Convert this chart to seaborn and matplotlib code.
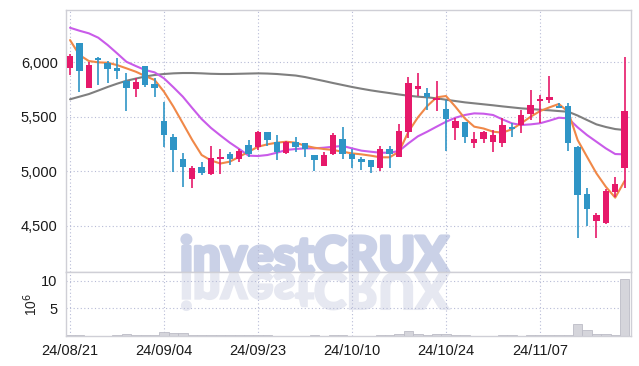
import numpy as np
import pandas as pd
import matplotlib
matplotlib.use("Agg")
import matplotlib.pyplot as plt
import seaborn as sns
from matplotlib.textpath import TextPath
from matplotlib.patches import PathPatch
from matplotlib.font_manager import FontProperties
import matplotlib.transforms as mtransforms
import matplotlib.patheffects as pe

# ---------------- data ----------------
dates = ["24/08/21", "24/08/22", "24/08/23", "24/08/26", "24/08/27", "24/08/28", "24/08/29", "24/08/30",
         "24/09/02", "24/09/03", "24/09/04", "24/09/05", "24/09/06", "24/09/09", "24/09/10", "24/09/11",
         "24/09/12", "24/09/13", "24/09/19", "24/09/20", "24/09/23", "24/09/24", "24/09/25", "24/09/26",
         "24/09/27", "24/09/30", "24/10/02", "24/10/04", "24/10/07", "24/10/08", "24/10/10", "24/10/11",
         "24/10/14", "24/10/15", "24/10/16", "24/10/17", "24/10/18", "24/10/21", "24/10/22", "24/10/23",
         "24/10/24", "24/10/25", "24/10/28", "24/10/29", "24/10/30", "24/10/31", "24/11/01", "24/11/04",
         "24/11/05", "24/11/06", "24/11/07", "24/11/08", "24/11/11", "24/11/12", "24/11/13", "24/11/14",
         "24/11/15", "24/11/18", "24/11/19", "24/11/20"]

opens = [5951, 6174, 5762, 6037, 5996, 5945, 5829, 5758, 5966, 5801,
         5462, 5318, 5110, 4927, 5043, 4973, 5116, 5156, 5113, 5242,
         5226, 5358, 5266, 5171, 5272, 5257, 5150, 5052, 5159, 5294,
         5159, 5113, 5104, 5034, 5202, 5134, 5364, 5758, 5716, 5654,
         5569, 5400, 5450, 5257, 5294, 5272, 5257, 5410, 5422, 5523,
         5645, 5654, 5602, 5599, 5226, 4792, 4548, 4529, 4813, 5028]
highs = [6080, 6180, 6005, 6046, 6012, 6037, 5899, 5853, 5970, 5860,
         5636, 5340, 5171, 5052, 5089, 5235, 5202, 5180, 5205, 5287,
         5370, 5360, 5331, 5275, 5318, 5260, 5150, 5180, 5349, 5404,
         5202, 5135, 5104, 5235, 5235, 5431, 5868, 5905, 5762, 5831,
         5654, 5486, 5455, 5364, 5370, 5379, 5486, 5446, 5563, 5746,
         5700, 5874, 5624, 5624, 5230, 4845, 4621, 4835, 4945, 6046]
lows = [5884, 5725, 5762, 5792, 5807, 5849, 5553, 5679, 5776, 5679,
        5223, 4990, 4859, 4845, 4967, 4970, 4976, 5058, 5089, 5134,
        5196, 5233, 5104, 5160, 5180, 5129, 5006, 5045, 5150, 5110,
        5028, 5012, 4988, 5006, 5028, 5129, 5303, 5691, 5563, 5553,
        5187, 5287, 5257, 5217, 5263, 5180, 5226, 5318, 5349, 5471,
        5441, 5624, 5580, 5190, 4386, 4499, 4386, 4520, 4768, 4850]
closes = [6058, 5923, 5975, 6021, 5941, 5923, 5767, 5819, 5792, 5767,
          5333, 5196, 5043, 5028, 4985, 5119, 5134, 5116, 5187, 5159,
          5358, 5288, 5180, 5266, 5226, 5205, 5104, 5150, 5333, 5156,
          5110, 5083, 5043, 5205, 5159, 5370, 5807, 5783, 5685, 5670,
          5480, 5465, 5312, 5297, 5364, 5333, 5422, 5386, 5514, 5608,
          5663, 5682, 5584, 5263, 4783, 4655, 4600, 4820, 4881, 5553]

ma_short = [6204, 6067, 6012, 6000, 5996, 5975, 5945, 5914, 5874, 5838,
            5730, 5593, 5441, 5288, 5150, 5100, 5072, 5089, 5134, 5180,
            5226, 5248, 5263, 5272, 5263, 5235, 5217, 5205, 5196, 5180,
            5165, 5156, 5144, 5129, 5129, 5180, 5364, 5494, 5599, 5679,
            5691, 5593, 5486, 5410, 5393, 5364, 5355, 5386, 5441, 5501,
            5553, 5587, 5618, 5547, 5288, 5134, 4982, 4859, 4759, 4912]
ma_mid = [6317, 6290, 6266, 6226, 6159, 6083, 6005, 5966, 5929, 5908,
          5853, 5771, 5685, 5581, 5480, 5398, 5329, 5263, 5205, 5144,
          5141, 5150, 5171, 5196, 5205, 5211, 5211, 5217, 5226, 5233,
          5211, 5190, 5180, 5171, 5171, 5187, 5257, 5321, 5364, 5410,
          5455, 5492, 5517, 5532, 5529, 5517, 5477, 5441, 5425, 5431,
          5441, 5465, 5492, 5486, 5404, 5333, 5272, 5211, 5159, 5156]
ma_long = [5661, 5685, 5709, 5741, 5774, 5804, 5831, 5851, 5870, 5884,
           5893, 5899, 5902, 5902, 5899, 5895, 5893, 5893, 5895, 5897,
           5899, 5897, 5893, 5886, 5879, 5865, 5847, 5829, 5810, 5792,
           5774, 5758, 5743, 5730, 5718, 5705, 5694, 5685, 5679, 5670,
           5657, 5645, 5633, 5624, 5615, 5606, 5596, 5587, 5578, 5572,
           5565, 5560, 5553, 5547, 5512, 5471, 5431, 5407, 5388, 5379]

volume = [0.10, 0.25, 0.08, 0.08, 0.08, 0.10, 0.45, 0.10, 0.10, 0.10,
          0.75, 0.60, 0.60, 0.25, 0.12, 0.25, 0.25, 0.10, 0.10, 0.10,
          0.20, 0.10, 0.08, 0.08, 0.08, 0.08, 0.20, 0.08, 0.10, 0.20,
          0.08, 0.08, 0.08, 0.10, 0.12, 0.30, 0.90, 0.28, 0.25, 0.28,
          0.28, 0.12, 0.10, 0.08, 0.06, 0.06, 0.12, 0.12, 0.06, 0.10,
          0.10, 0.10, 0.10, 0.20, 2.10, 1.00, 0.40, 0.40, 0.20, 10.40]

price_ticks = [4500, 5000, 5500, 6000]
vol_ticks = [5, 10]
tick_every = 10

# ---------------- style ----------------
sns.set_theme(style="white")
plt.rcParams["font.family"] = ["Liberation Sans Narrow", "Liberation Sans", "DejaVu Sans"]

UP = "#e6196a"
DOWN = "#2f95c6"
C_SHORT = "#f08848"
C_MID = "#c95be9"
C_LONG = "#7f7f7f"
GRID = "#b7bbd6"
SPINE = "#cfcfd6"
WM = "#cad1e7"
WM_REF = "#e6e8f1"

df = pd.DataFrame({"i": np.arange(len(dates)), "date": dates, "open": opens, "high": highs,
                   "low": lows, "close": closes, "ma_short": ma_short, "ma_mid": ma_mid,
                   "ma_long": ma_long, "volume": volume})

fig = plt.figure(figsize=(6.39, 3.66), dpi=100)
W, H = 639.0, 366.0
L, R, T, D, B = 66, 631, 10, 272, 336
ax = fig.add_axes([L / W, 1 - D / H, (R - L) / W, (D - T) / H])
axv = fig.add_axes([L / W, 1 - B / H, (R - L) / W, (B - D) / H], sharex=ax)

for a in (ax, axv):
    a.set_axisbelow(True)
    a.grid(True, linestyle=(0, (1, 2.2)), color=GRID, linewidth=0.8)
    for s in a.spines.values():
        s.set_color(SPINE)
        s.set_linewidth(1.0)
    a.tick_params(length=0, colors="#1a1a1a", labelsize=10.5)

# moving averages
sns.lineplot(data=df, x="i", y="ma_long", ax=ax, color=C_LONG, lw=1.5, zorder=2)
sns.lineplot(data=df, x="i", y="ma_mid", ax=ax, color=C_MID, lw=1.5, zorder=2)
sns.lineplot(data=df, x="i", y="ma_short", ax=ax, color=C_SHORT, lw=1.5, zorder=2)

# candles
up = df["close"] >= df["open"]
cols = np.where(up, UP, DOWN)
ax.vlines(df["i"], df["low"], df["high"], colors=cols, linewidth=1.2, zorder=3)
body_lo = np.minimum(df["open"], df["close"])
body_h = np.maximum(np.abs(df["close"] - df["open"]), 14)
ax.bar(df["i"], body_h, bottom=body_lo, width=0.68, color=cols, linewidth=0, zorder=4)

ax.set_xlim(-0.43, 59.68)
ax.set_ylim(4077, 6480)
ax.set_yticks(price_ticks)
ax.set_yticklabels([f"{v:,}" for v in price_ticks])
ax.set_xlabel("")
ax.set_ylabel("")
ax.tick_params(axis="x", labelbottom=False)
ax.tick_params(axis="y", pad=6)

# volume
axv.bar(df["i"], df["volume"], width=1.0, color="#d5d5db", edgecolor="#bcbcc6", linewidth=0.6, zorder=2)
axv.set_ylim(0, 11.6)
axv.set_yticks(vol_ticks)
axv.set_yticklabels([str(v) for v in vol_ticks])
xt = list(range(0, len(dates), tick_every))
axv.set_xticks(xt)
axv.set_xticklabels([dates[k] for k in xt])
axv.tick_params(axis="x", pad=6)
axv.tick_params(axis="y", pad=6)
axv.set_ylabel("10$^6$", fontsize=10, color="#222222", labelpad=1)
axv.set_xlabel("")
axv.set_xlim(-0.43, 59.68)

# watermark (with vertical reflection)
wm_fp = FontProperties(family=["Lato", "Liberation Sans"], weight="black", size=35.5)
wm_x = 180
stroke = [pe.withStroke(linewidth=2.6, foreground=WM)]
ax.text(wm_x / W, 1 - 272 / H, "investCRUX", transform=fig.transFigure, fontproperties=wm_fp,
        color=WM, ha="left", va="baseline", zorder=0.1, clip_on=False, path_effects=stroke)
tp = TextPath((0, 0), "investCRUX", prop=wm_fp)
k = 100 / 72.0
tr = mtransforms.Affine2D().scale(k, -k).translate(wm_x, H - 272 - 1)
patch = PathPatch(tp, transform=tr, facecolor=WM_REF, edgecolor=WM_REF, linewidth=1.8,
                  zorder=0.1, clip_on=True)
patch.set_clip_box(axv.bbox)
axv.add_artist(patch)

fig.savefig("out.png", dpi=100)
